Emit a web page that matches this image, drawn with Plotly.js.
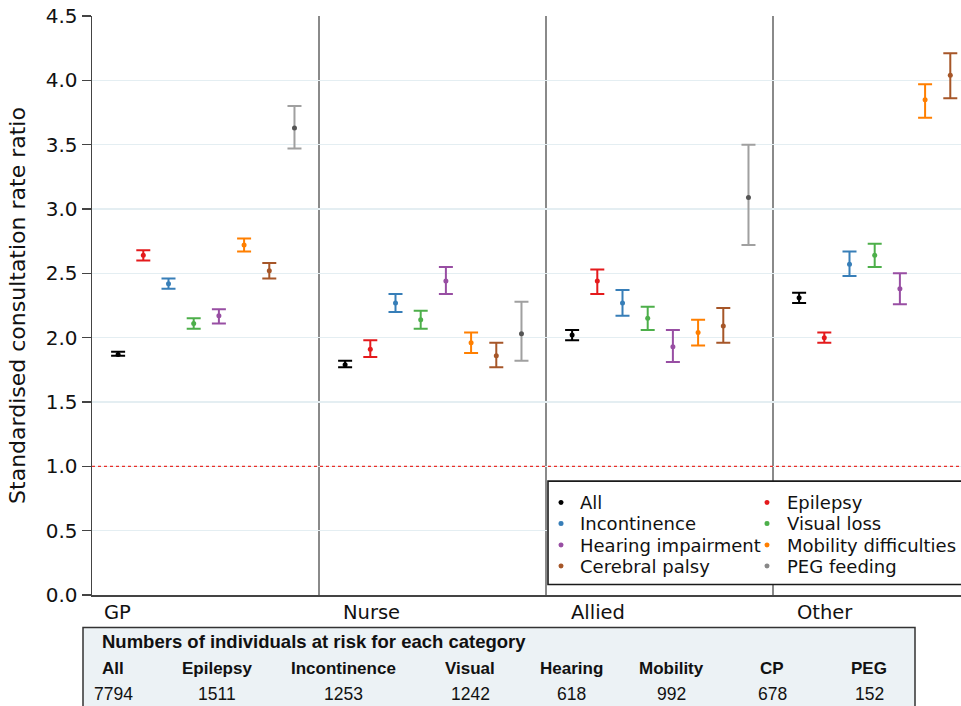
<!DOCTYPE html>
<html>
<head>
<meta charset="utf-8">
<script src="https://cdn.plot.ly/plotly-3.0.1.min.js"></script>
<style>html,body{margin:0;padding:0;background:#fff;}#chart{width:961px;height:706px;}</style>
</head>
<body>
<div id="chart"></div>
<script>
// ---- Data ----
const groups = ['GP', 'Nurse', 'Allied', 'Other'];
const seriesNames = ['All', 'Epilepsy', 'Incontinence', 'Visual loss', 'Hearing impairment', 'Mobility difficulties', 'Cerebral palsy', 'PEG feeding'];

const estAll   = [1.87, 1.79, 2.02, 2.31];
const loAll    = [1.86, 1.77, 1.98, 2.27];
const hiAll    = [1.89, 1.82, 2.06, 2.35];

const estEpi   = [2.64, 1.91, 2.44, 2.00];
const loEpi    = [2.60, 1.85, 2.34, 1.96];
const hiEpi    = [2.68, 1.98, 2.53, 2.04];

const estInc   = [2.42, 2.27, 2.27, 2.57];
const loInc    = [2.38, 2.20, 2.17, 2.48];
const hiInc    = [2.46, 2.34, 2.37, 2.67];

const estVis   = [2.11, 2.14, 2.15, 2.64];
const loVis    = [2.07, 2.07, 2.06, 2.55];
const hiVis    = [2.15, 2.21, 2.24, 2.73];

const estHear  = [2.17, 2.44, 1.93, 2.38];
const loHear   = [2.11, 2.34, 1.81, 2.26];
const hiHear   = [2.22, 2.55, 2.06, 2.50];

const estMob   = [2.72, 1.96, 2.04, 3.85];
const loMob    = [2.67, 1.88, 1.94, 3.71];
const hiMob    = [2.77, 2.04, 2.14, 3.97];

const estCP    = [2.52, 1.86, 2.09, 4.04];
const loCP     = [2.46, 1.77, 1.96, 3.86];
const hiCP     = [2.58, 1.96, 2.23, 4.21];

const estPEG   = [3.63, 2.03, 3.09, null];
const loPEG    = [3.47, 1.82, 2.72, null];
const hiPEG    = [3.80, 2.28, 3.50, null];

const tableTitle = 'Numbers of individuals at risk for each category';
const tableHeaders = ['All', 'Epilepsy', 'Incontinence', 'Visual', 'Hearing', 'Mobility', 'CP', 'PEG'];
const tableCounts = ['7794', '1511', '1253', '1242', '618', '992', '678', '152'];

// ---- Styling ----
const colors = ['#000000', '#e41a1c', '#377eb8', '#4daf4a', '#984ea3', '#ff7f00', '#a65628', '#a0a0a0'];
const markerColors = ['#000000', '#e41a1c', '#377eb8', '#4daf4a', '#984ea3', '#ff7f00', '#a65628', '#555555'];
const legendDotColors = ['#000000', '#e41a1c', '#377eb8', '#4daf4a', '#984ea3', '#ff7f00', '#a65628', '#888888'];
const est = [estAll, estEpi, estInc, estVis, estHear, estMob, estCP, estPEG];
const lo  = [loAll, loEpi, loInc, loVis, loHear, loMob, loCP, loPEG];
const hi  = [hiAll, hiEpi, hiInc, hiVis, hiHear, hiMob, hiCP, hiPEG];

const offset0 = 0.115, step = 0.111;
const traces = seriesNames.map((name, i) => ({
  type: 'scatter',
  mode: 'markers',
  name: name,
  showlegend: false,
  x: groups.map((g, gi) => gi + offset0 + i * step),
  y: est[i],
  marker: {color: markerColors[i], size: 5},
  error_y: {
    type: 'data', symmetric: false,
    array: est[i].map((v, k) => v == null ? null : hi[i][k] - v),
    arrayminus: est[i].map((v, k) => v == null ? null : v - lo[i][k]),
    color: colors[i], thickness: 2, width: 7
  }
}));

const CHART_FONT = 'DejaVu Sans, Verdana, sans-serif';
const TABLE_FONT = 'Liberation Sans, Arial, Helvetica, sans-serif';
const L = 92, T = 16, W = 961, H = 706, B = 110.5;
const pw = W - L, ph = H - T - B;
const px = v => (v - L) / pw;       // pixel -> paper x
const py = v => (H - B - v) / ph;   // pixel -> paper y

const shapes = [];
[1, 2, 3].forEach(v => shapes.push({type: 'line', xref: 'x', yref: 'paper', x0: v, x1: v, y0: 0, y1: 1,
  line: {color: '#8a8a8a', width: 2}, layer: 'below'}));
shapes.push({type: 'line', xref: 'paper', yref: 'y', x0: 0, x1: 1, y0: 1, y1: 1,
  line: {color: '#e8302a', width: 1.3, dash: 'dot'}, layer: 'above'});

// legend box (manual, two columns, clipped at the right edge like the reference)
shapes.push({type: 'rect', xref: 'paper', yref: 'paper', x0: px(548), x1: px(985), y0: py(481.5), y1: py(585),
  fillcolor: '#ffffff', line: {color: '#1a1a1a', width: 1.6}, layer: 'above'});
const legColX = [561, 767], legTextX = [578, 785], legRowY = [503, 524, 545.5, 566.5];
const annotations = [];
seriesNames.forEach((name, i) => {
  const c = i % 2, r = Math.floor(i / 2);
  shapes.push({type: 'circle', xref: 'paper', yref: 'paper',
    x0: px(legColX[c] - 2.5), x1: px(legColX[c] + 2.5), y0: py(legRowY[r] - 2.5), y1: py(legRowY[r] + 2.5),
    fillcolor: legendDotColors[i], line: {width: 0}, layer: 'above'});
  annotations.push({text: name, x: px(legTextX[c]), xref: 'paper', y: py(legRowY[r]), yref: 'paper',
    xanchor: 'left', yanchor: 'middle', showarrow: false, font: {family: CHART_FONT, size: 18, color: '#111'}});
});

// table box
shapes.push({type: 'rect', xref: 'paper', yref: 'paper', x0: px(83), x1: px(915), y0: py(628), y1: py(712),
  fillcolor: '#ecf2f5', line: {color: '#333', width: 1.5}});

const labelOff = [0.045, 0.096, 0.101, 0.097];
groups.forEach((g, gi) => annotations.push({text: g, x: gi + labelOff[gi], xref: 'x', y: py(613), yref: 'paper',
  xanchor: 'left', yanchor: 'middle', showarrow: false, font: {family: CHART_FONT, size: 19.5, color: '#111'}}));
annotations.push({text: '<b>' + tableTitle + '</b>', x: px(100), xref: 'paper', y: py(642.5), yref: 'paper',
  xanchor: 'left', yanchor: 'middle', showarrow: false, font: {family: TABLE_FONT, size: 18.5, color: '#111'}});
const colCenters = [113, 217, 343, 470, 571, 671, 772, 869];
tableHeaders.forEach((h, k) => {
  annotations.push({text: '<b>' + h + '</b>', x: px(colCenters[k]), xref: 'paper', y: py(669), yref: 'paper',
    xanchor: 'center', yanchor: 'middle', showarrow: false, font: {family: TABLE_FONT, size: 17, color: '#111'}});
  annotations.push({text: tableCounts[k], x: px(colCenters[k]), xref: 'paper', y: py(694.5), yref: 'paper',
    xanchor: 'center', yanchor: 'middle', showarrow: false, font: {family: TABLE_FONT, size: 17.5, color: '#111'}});
});

const layout = {
  width: W, height: H,
  margin: {l: L, r: 0, t: T, b: B, pad: 0},
  paper_bgcolor: '#ffffff', plot_bgcolor: '#ffffff',
  font: {family: CHART_FONT, color: '#111'},
  showlegend: false,
  xaxis: {
    range: [0, pw / 227], showgrid: false, zeroline: false, showticklabels: false, ticks: '',
    showline: true, linecolor: '#444', linewidth: 1.5, fixedrange: true
  },
  yaxis: {
    range: [0, 4.5], dtick: 0.5, tick0: 0, tickformat: '.1f',
    showgrid: true, gridcolor: '#e4eef2', gridwidth: 1.5, zeroline: false,
    showline: true, linecolor: '#444', linewidth: 1.5,
    ticks: 'outside', ticklen: 9, tickwidth: 1.5, tickcolor: '#444',
    tickfont: {family: CHART_FONT, size: 20, color: '#111'},
    title: {text: 'Standardised consultation rate ratio', font: {family: CHART_FONT, size: 22, color: '#111'}, standoff: 14}
  },
  shapes: shapes,
  annotations: annotations
};

Plotly.newPlot('chart', traces, layout, {displayModeBar: false, staticPlot: true});
</script>
</body>
</html>
